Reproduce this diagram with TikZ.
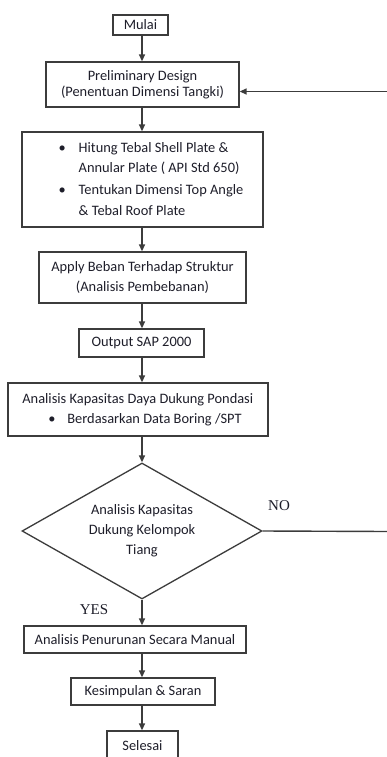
\documentclass[tikz,border=0pt]{standalone}
\usepackage{fontspec}
\setmainfont{Carlito}
\newfontfamily\ynfont{Liberation Serif}
\usetikzlibrary{shapes.geometric,arrows.meta}
\definecolor{linec}{HTML}{3C3C3C}
\definecolor{txt}{HTML}{1E1E2A}
\begin{document}
\begin{tikzpicture}[x=1pt,y=-1pt,
  box/.style={draw=linec, line width=1.3pt, rectangle, inner sep=0pt, align=center,
    font=\fontsize{14.4}{20}\selectfont, text=txt},
  dec/.style={draw=linec, line width=1.3pt, diamond, inner sep=0pt, shape aspect=1.76,
    minimum width=240pt, minimum height=136pt, align=center,
    font=\fontsize{14.4}{20}\selectfont, text=txt},
  lbl/.style={font=\ynfont\fontsize{15}{18}\selectfont, text=txt, inner sep=0pt},
  arr/.style={draw=linec, line width=1.4pt, -{Triangle[length=7pt,width=6pt]}},
  ln/.style={draw=linec, line width=1.4pt}]
\useasboundingbox (0,0) rectangle (387,757);
\fill[white] (0,0) rectangle (387,757);

\node[box, minimum width=55pt, minimum height=20pt] (mulai) at (140.5,25) {Mulai};
\node[box, minimum width=193pt, minimum height=45pt, font=\fontsize{14.4}{16}\selectfont] (prelim) at (142.5,84.5)
  {Preliminary Design\\(Penentuan Dimensi Tangki)};
\node[box, minimum width=241pt, minimum height=95pt, align=left] (hitung) at (142.5,179.5)
  {\hbox{\hspace*{17pt}\begin{tabular}{@{}p{20pt}@{}l@{}}
   \textbullet & Hitung Tebal Shell Plate \&\\
               & Annular Plate ( API Std 650)\\[3pt]
   \textbullet & Tentukan Dimensi Top Angle\\
               & \& Tebal Roof Plate
   \end{tabular}}};
\node[box, minimum width=207pt, minimum height=51pt] (apply) at (142.5,277.5)
  {Apply Beban Terhadap Struktur\\(Analisis Pembebanan)};
\node[box, minimum width=125pt, minimum height=28pt] (sap) at (141.5,343) {Output SAP 2000};
\node[box, minimum width=260pt, minimum height=53pt, align=left] (daya) at (138,409.5)
  {Analisis Kapasitas Daya Dukung Pondasi\\
   \hspace*{26pt}\makebox[19pt][l]{\textbullet}Berdasarkan Data Boring /SPT\hspace*{12pt}};
\node[dec] (dia) at (142,531) {Analisis Kapasitas\\Dukung Kelompok\\Tiang};
\node[box, minimum width=222pt, minimum height=27pt] (turun) at (135,639.5) {Analisis Penurunan Secara Manual};
\node[box, minimum width=144pt, minimum height=27pt] (simp) at (143,691.5) {Kesimpulan \& Saran};
\node[box, minimum width=71pt, minimum height=29pt] (selesai) at (142.5,745.5) {Selesai};

\node[lbl] (no) at (279,506) {NO};
\node[lbl] (yes) at (94,610) {YES};

\coordinate (ax) at (142,0);
\coordinate (r1) at (388,531.5);
\coordinate (r2) at (388,91.5);

\draw[arr] (ax |- mulai.south) -- (ax |- prelim.north);
\draw[arr] (ax |- prelim.south) -- (ax |- hitung.north);
\draw[arr] (ax |- hitung.south) -- (ax |- apply.north);
\draw[arr] (ax |- apply.south) -- (ax |- sap.north);
\draw[arr] (ax |- sap.south) -- (ax |- daya.north);
\draw[arr] (ax |- daya.south) -- (dia.north);
\draw[arr] (dia.south) -- (ax |- turun.north);
\draw[arr] (ax |- turun.south) -- (ax |- simp.north);
\draw[arr] (ax |- simp.south) -- (ax |- selesai.north);
\draw[ln] (dia.east) -- (r1);
\draw[arr] (r2) -- (r2 -| prelim.east);
\end{tikzpicture}
\end{document}
